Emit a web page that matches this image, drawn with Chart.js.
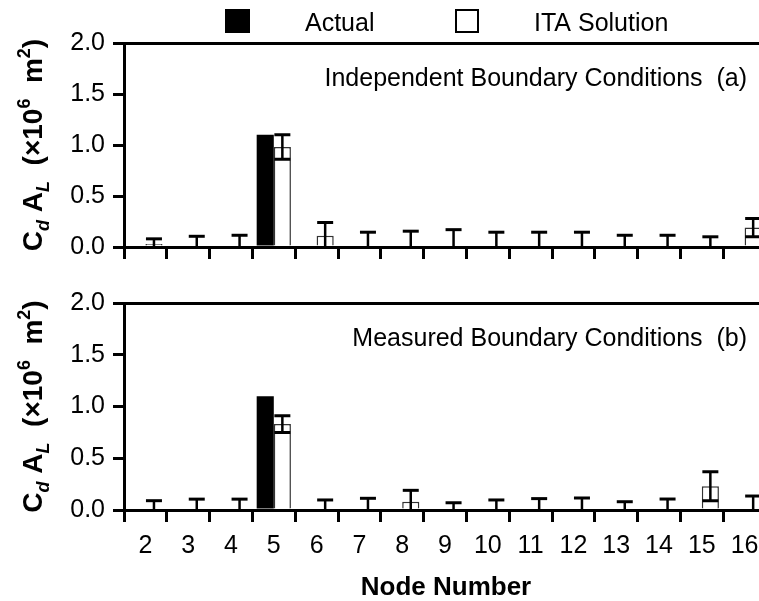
<!DOCTYPE html>
<html>
<head>
<meta charset="utf-8">
<script src="https://cdn.jsdelivr.net/npm/chart.js@4.4.1/dist/chart.umd.min.js"></script>
<style>
  html, body { margin: 0; padding: 0; background: #fff; overflow: hidden; width: 759px; height: 601px; }
  canvas { position: absolute; left: 0; }
  #topChart { top: 0; }
  #bottomChart { top: 270px; }
</style>
</head>
<body>
<canvas id="topChart" width="770" height="270"></canvas>
<canvas id="bottomChart" width="770" height="331"></canvas>
<script>
// node numbers on the x axis
const nodes = ['2', '3', '4', '5', '6', '7', '8', '9', '10', '11', '12', '13', '14', '15', '16'];
const yTicks = [0, 0.5, 1.0, 1.5, 2.0];

// (a) independent boundary conditions
const actualA = [0, 0, 0, 1.10, 0, 0, 0, 0, 0, 0, 0, 0, 0, 0, 0];
const itaA    = [0.03, 0, 0, 0.98, 0.11, 0, 0, 0, 0, 0, 0, 0, 0, 0, 0.19];
const errA    = [0.05, 0.105, 0.115, 0.12, 0.13, 0.145, 0.155, 0.17, 0.145, 0.145, 0.145, 0.115, 0.115, 0.10, 0.09];

// (b) measured boundary conditions
const actualB = [0, 0, 0, 1.10, 0, 0, 0, 0, 0, 0, 0, 0, 0, 0, 0];
const itaB    = [0, 0, 0, 0.83, 0, 0, 0.08, 0, 0, 0, 0, 0, 0, 0.23, 0];
const errB    = [0.09, 0.105, 0.105, 0.08, 0.097, 0.113, 0.11, 0.07, 0.097, 0.11, 0.116, 0.08, 0.106, 0.14, 0.135];

const FONT = '"Liberation Sans", Arial, sans-serif';
Chart.defaults.font.family = FONT;
Chart.defaults.color = '#000';

// error bars on top of the ITA bars
const errorBars = {
    id: 'errorBars',
    afterDatasetsDraw(chart, args, opts) {
        const meta = chart.getDatasetMeta(1);
        const y = chart.scales.y;
        const vals = chart.data.datasets[1].data;
        const ctx = chart.ctx;
        ctx.save();
        ctx.strokeStyle = '#000';
        meta.data.forEach((bar, i) => {
            const v = vals[i];
            const e = opts.err[i];
            const top = y.getPixelForValue(v + e);
            const low = Math.max(0, v - e);
            const bot = y.getPixelForValue(low);
            ctx.lineWidth = 2.5;
            ctx.beginPath();
            ctx.moveTo(bar.x, bot);
            ctx.lineTo(bar.x, top);
            ctx.stroke();
            ctx.lineWidth = 3;
            ctx.beginPath();
            ctx.moveTo(bar.x - 8, top);
            ctx.lineTo(bar.x + 8, top);
            if (low > 0) {
                ctx.moveTo(bar.x - 8, bot);
                ctx.lineTo(bar.x + 8, bot);
            }
            ctx.stroke();
        });
        ctx.restore();
    }
};

// rotated y title with sub/superscripts, panel note, legend, x title
const decorations = {
    id: 'decorations',
    afterDraw(chart, args, opts) {
        const ctx = chart.ctx;
        const area = chart.chartArea;
        ctx.save();
        ctx.fillStyle = '#000';

        // y axis title
        const parts = [
            ['C', 'bold 28px ' + FONT, 0],
            ['d', 'italic bold 18px ' + FONT, 7],
            [' A', 'bold 28px ' + FONT, 0],
            ['L', 'italic bold 18px ' + FONT, 7],
            ['  (\u00d710', 'bold 28px ' + FONT, 0],
            ['6', 'bold 18px ' + FONT, -12],
            ['  m', 'bold 28px ' + FONT, 0],
            ['2', 'bold 18px ' + FONT, -12],
            [')', 'bold 28px ' + FONT, 0]
        ];
        let total = 0;
        parts.forEach(p => { ctx.font = p[1]; total += ctx.measureText(p[0]).width; });
        ctx.translate(42, (area.top + area.bottom) / 2);
        ctx.rotate(-Math.PI / 2);
        ctx.textBaseline = 'alphabetic';
        ctx.textAlign = 'left';
        let x = -total / 2;
        parts.forEach(p => {
            ctx.font = p[1];
            ctx.fillText(p[0], x, p[2]);
            x += ctx.measureText(p[0]).width;
        });
        ctx.setTransform(1, 0, 0, 1, 0, 0);

        // panel note
        ctx.font = '25px ' + FONT;
        ctx.textAlign = 'right';
        ctx.fillText(opts.note, 747, area.top + 43);

        if (opts.legend) {
            ctx.textAlign = 'left';
            ctx.fillRect(225, 9, 25, 24);
            ctx.fillText('Actual', 305, 31);
            ctx.lineWidth = 2;
            ctx.strokeStyle = '#000';
            ctx.strokeRect(456, 10, 22, 22);
            ctx.fillText('ITA Solution', 534, 31);
        }
        if (opts.xTitle) {
            ctx.font = 'bold 26px ' + FONT;
            ctx.textAlign = 'center';
            ctx.fillText(opts.xTitle, 446, area.bottom + 85);
        }
        ctx.restore();
    }
};

function makeChart(id, actual, ita, err, note, isTop) {
    return new Chart(document.getElementById(id), {
        type: 'bar',
        data: {
            labels: nodes,
            datasets: [{
                label: 'Actual',
                data: actual,
                backgroundColor: '#000',
                borderWidth: 0,
                categoryPercentage: 0.8,
                barPercentage: 1.0
            }, {
                label: 'ITA Solution',
                data: ita,
                backgroundColor: '#fff',
                borderColor: '#333',
                borderWidth: 1.5,
                categoryPercentage: 0.8,
                barPercentage: 1.0
            }]
        },
        options: {
            responsive: false,
            animation: false,
            devicePixelRatio: 1,
            layout: {
                padding: { top: isTop ? 43 : 33, right: 4, left: 0, bottom: 0 }
            },
            plugins: {
                legend: { display: false },
                tooltip: { enabled: false },
                errorBars: { err: err },
                decorations: { note: note, legend: isTop, xTitle: isTop ? null : 'Node Number' }
            },
            scales: {
                x: {
                    offset: true,
                    grid: {
                        offset: true,
                        drawOnChartArea: false,
                        drawTicks: true,
                        tickLength: 12,
                        tickWidth: 3,
                        tickColor: '#000'
                    },
                    border: { display: true, color: '#000', width: 3 },
                    ticks: {
                        display: !isTop,
                        color: '#000',
                        font: { size: 25 },
                        padding: 9,
                        maxRotation: 0,
                        autoSkip: false
                    },
                    afterFit(scale) { scale.height = isTop ? 20 : 91; }
                },
                y: {
                    min: 0,
                    max: 2,
                    afterBuildTicks(scale) { scale.ticks = yTicks.map(v => ({ value: v })); },
                    grid: {
                        drawOnChartArea: true,
                        color: (c) => (c.tick && c.tick.value === 2) ? '#000' : 'rgba(0,0,0,0)',
                        lineWidth: 3,
                        drawTicks: true,
                        tickLength: 11,
                        tickWidth: 3,
                        tickColor: '#000'
                    },
                    border: { display: true, color: '#000', width: 3 },
                    ticks: {
                        color: '#000',
                        font: { size: 25 },
                        padding: 8,
                        callback: (v) => Number(v).toFixed(1)
                    },
                    afterFit(scale) { scale.width = 124; }
                }
            }
        },
        plugins: [errorBars, decorations]
    });
}

makeChart('topChart', actualA, itaA, errA, 'Independent Boundary Conditions  (a)', true);
makeChart('bottomChart', actualB, itaB, errB, 'Measured Boundary Conditions  (b)', false);
</script>
</body>
</html>
